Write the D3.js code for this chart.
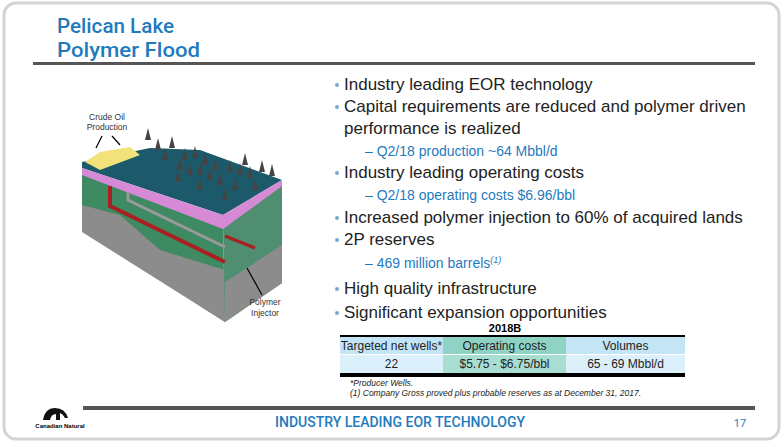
<!DOCTYPE html>
<html><head><meta charset="utf-8">
<script src="https://cdn.jsdelivr.net/npm/d3@7"></script>
<style>body{margin:0;background:#fff}</style></head>
<body><script>
const titleLines=["Pelican Lake","Polymer Flood"];
const bullets=[
 {t:"Industry leading EOR technology",lvl:0,y:90},
 {t:"Capital requirements are reduced and polymer driven",lvl:0,y:112},
 {t:"performance is realized",lvl:2,y:134},
 {t:"Q2/18 production ~64 Mbbl/d",lvl:1,y:156},
 {t:"Industry leading operating costs",lvl:0,y:178},
 {t:"Q2/18 operating costs $6.96/bbl",lvl:1,y:200},
 {t:"Increased polymer injection to 60% of acquired lands",lvl:0,y:223},
 {t:"2P reserves",lvl:0,y:245},
 {t:"469 million barrels",lvl:1,y:268,sup:"(1)"},
 {t:"High quality infrastructure",lvl:0,y:294},
 {t:"Significant expansion opportunities",lvl:0,y:318}];
const tableHeaders=["Targeted net wells*","Operating costs","Volumes"];
const tableValues=["22","$5.75 - $6.75/bbl","65 - 69 Mbbl/d"];
const footnotes=["*Producer Wells.","(1) Company Gross proved plus probable reserves as at December 31, 2017."];
const blue="#1f7bbd";
const svg=d3.select("body").append("svg").attr("width",784).attr("height",447);
svg.append("rect").attr("x",4).attr("y",3).attr("width",775).attr("height",436).attr("rx",12).attr("fill","#fff").attr("stroke","#d4d4d4").attr("stroke-width",3);
svg.selectAll(".ti").data(titleLines).join("text").attr("x",57).attr("y",(d,i)=>33+i*24)
 .attr("font-family","Roboto, sans-serif").attr("font-weight","500").attr("font-size",20).attr("fill",blue).attr("textLength",(d,i)=>i?143:117).attr("lengthAdjust","spacingAndGlyphs").text(d=>d);
svg.append("rect").attr("x",33).attr("y",62).attr("width",722).attr("height",3).attr("fill","#555");
const g=svg.append("g").attr("font-family","Arial, Liberation Sans, sans-serif");
bullets.forEach(b=>{
 if(b.lvl===0) g.append("circle").attr("cx",337).attr("cy",b.y-5).attr("r",2).attr("fill","#7aa7cc");
 const t=g.append("text").attr("y",b.y).attr("x",b.lvl===1?365:344).attr("font-size",b.lvl===1?14:17).attr("fill",b.lvl===1?blue:"#222").text((b.lvl===1?"– ":"")+b.t);
 if(b.sup) t.append("tspan").attr("font-size",9).attr("font-style","italic").attr("dy",-5).text(b.sup);
});
const x=d3.scaleOrdinal().domain([0,1,2]).range([340,443,566]);
const w=[103,123,119];
svg.append("text").attr("x",505).attr("y",332).attr("text-anchor","middle").attr("font-family","Arial").attr("font-weight","bold").attr("font-size",11).text("2018B");
[[tableHeaders,337,["#c4e5f6","#8fd3c4","#c4e5f6"]],[tableValues,355,["#dbf0fa","#a8ddd1","#dbf0fa"]]].forEach(([arr,y,cols])=>{
 arr.forEach((s,i)=>{
  svg.append("rect").attr("x",x(i)).attr("y",y).attr("width",w[i]).attr("height",18).attr("fill",cols[i]);
  svg.append("text").attr("x",x(i)+w[i]/2).attr("y",y+13).attr("text-anchor","middle").attr("font-family","Arial").attr("font-size",12).attr("fill","#222").text(s);
 });
});
svg.append("rect").attr("x",340).attr("y",335).attr("width",345).attr("height",2).attr("fill","#000");
svg.append("rect").attr("x",340).attr("y",354).attr("width",345).attr("height",1).attr("fill","#fff");
svg.append("rect").attr("x",340).attr("y",373).attr("width",345).attr("height",4).attr("fill","#000");
svg.selectAll(".fn").data(footnotes).join("text").attr("x",350).attr("y",(d,i)=>386+i*10).attr("font-family","Arial").attr("font-style","italic").attr("font-size",8.5).attr("fill","#222").text(d=>d);
svg.append("rect").attr("x",83).attr("y",406).attr("width",672).attr("height",4).attr("fill","#555");
svg.append("text").attr("x",400).attr("y",427).attr("text-anchor","middle").attr("font-family","Roboto").attr("font-weight","500").attr("font-size",14).attr("fill",blue).text("INDUSTRY LEADING EOR TECHNOLOGY");
svg.append("text").attr("x",740).attr("y",427).attr("text-anchor","middle").attr("font-family","Roboto").attr("font-size",11).attr("fill",blue).text("17");
svg.append("path").attr("d","M43 420 q2 -12 12 -12 q10 0 13 10 l-3 0 q-2 -4 -5 -5 l0 7 l-4 0 l0 -6 q-5 0 -6 6z").attr("fill","#111");
svg.append("text").attr("x",60).attr("y",428).attr("text-anchor","middle").attr("font-family","Arial").attr("font-size",6).attr("font-weight","bold").text("Canadian Natural");
const ill=svg.append("g");
const P=pts=>"M"+pts.map(p=>p.join(",")).join("L")+"Z";
ill.append("path").attr("d",P([[82,172],[223,225],[225,322],[82,230]])).attr("fill","#3e8a62");
ill.append("path").attr("d",P([[82,205],[120,215],[160,250],[225,270],[225,322],[82,232]])).attr("fill","#8c8c8c");
ill.append("path").attr("d",P([[223,225],[282,182],[282,283],[225,322]])).attr("fill","#4f8e71");
ill.append("path").attr("d",P([[225,282],[282,245],[282,283],[225,322]])).attr("fill","#8c8c8c");
ill.append("path").attr("d",P([[82,162],[150,148],[200,150],[282,180],[223,215],[82,168]])).attr("fill","#1c5a6b");
ill.append("path").attr("d",P([[82,168],[223,215],[282,180],[282,186],[223,229],[82,175]])).attr("fill","#d68ad6");
ill.append("path").attr("d",P([[85,162],[100,152],[130,147],[140,155],[100,170]])).attr("fill","#f1e27a");
ill.append("path").attr("d","M110 186 L110 206 L225 262").attr("fill","none").attr("stroke","#a8201f").attr("stroke-width",4);
ill.append("path").attr("d","M128 192 L128 200 L225 247").attr("fill","none").attr("stroke","#9a9a9a").attr("stroke-width",3);
ill.append("path").attr("d","M225 236 L255 248").attr("stroke","#a8201f").attr("stroke-width",3);
const trees=[[148,140],[158,150],[172,148],[185,160],[195,158],[205,165],[215,170],[230,172],[240,175],[200,175],[190,175],[220,185],[250,178],[262,172],[272,176],[180,170],[210,180],[235,190],[165,160],[178,182],[225,200],[255,190],[200,190],[245,165]];
ill.selectAll(".tree").data(trees).join("path").attr("d",d=>`M${d[0]} ${d[1]-12} L${d[0]-3} ${d[1]} L${d[0]+3} ${d[1]}Z`).attr("fill","#444");
ill.append("path").attr("d","M102 136 L96 148 M112 136 L120 145").attr("stroke","#000").attr("stroke-width",1.2);
ill.append("path").attr("d","M247 268 L262 295").attr("stroke","#000").attr("stroke-width",1.2);
[["Crude Oil",120],["Production",130]].forEach(d=>ill.append("text").attr("x",107).attr("y",d[1]).attr("text-anchor","middle").attr("font-family","Arial").attr("font-size",8.5).attr("fill","#333").text(d[0]));
[["Polymer",305],["Injector",316]].forEach(d=>ill.append("text").attr("x",265).attr("y",d[1]).attr("text-anchor","middle").attr("font-family","Arial").attr("font-size",8.5).attr("fill","#333").text(d[0]));
</script></body></html>
